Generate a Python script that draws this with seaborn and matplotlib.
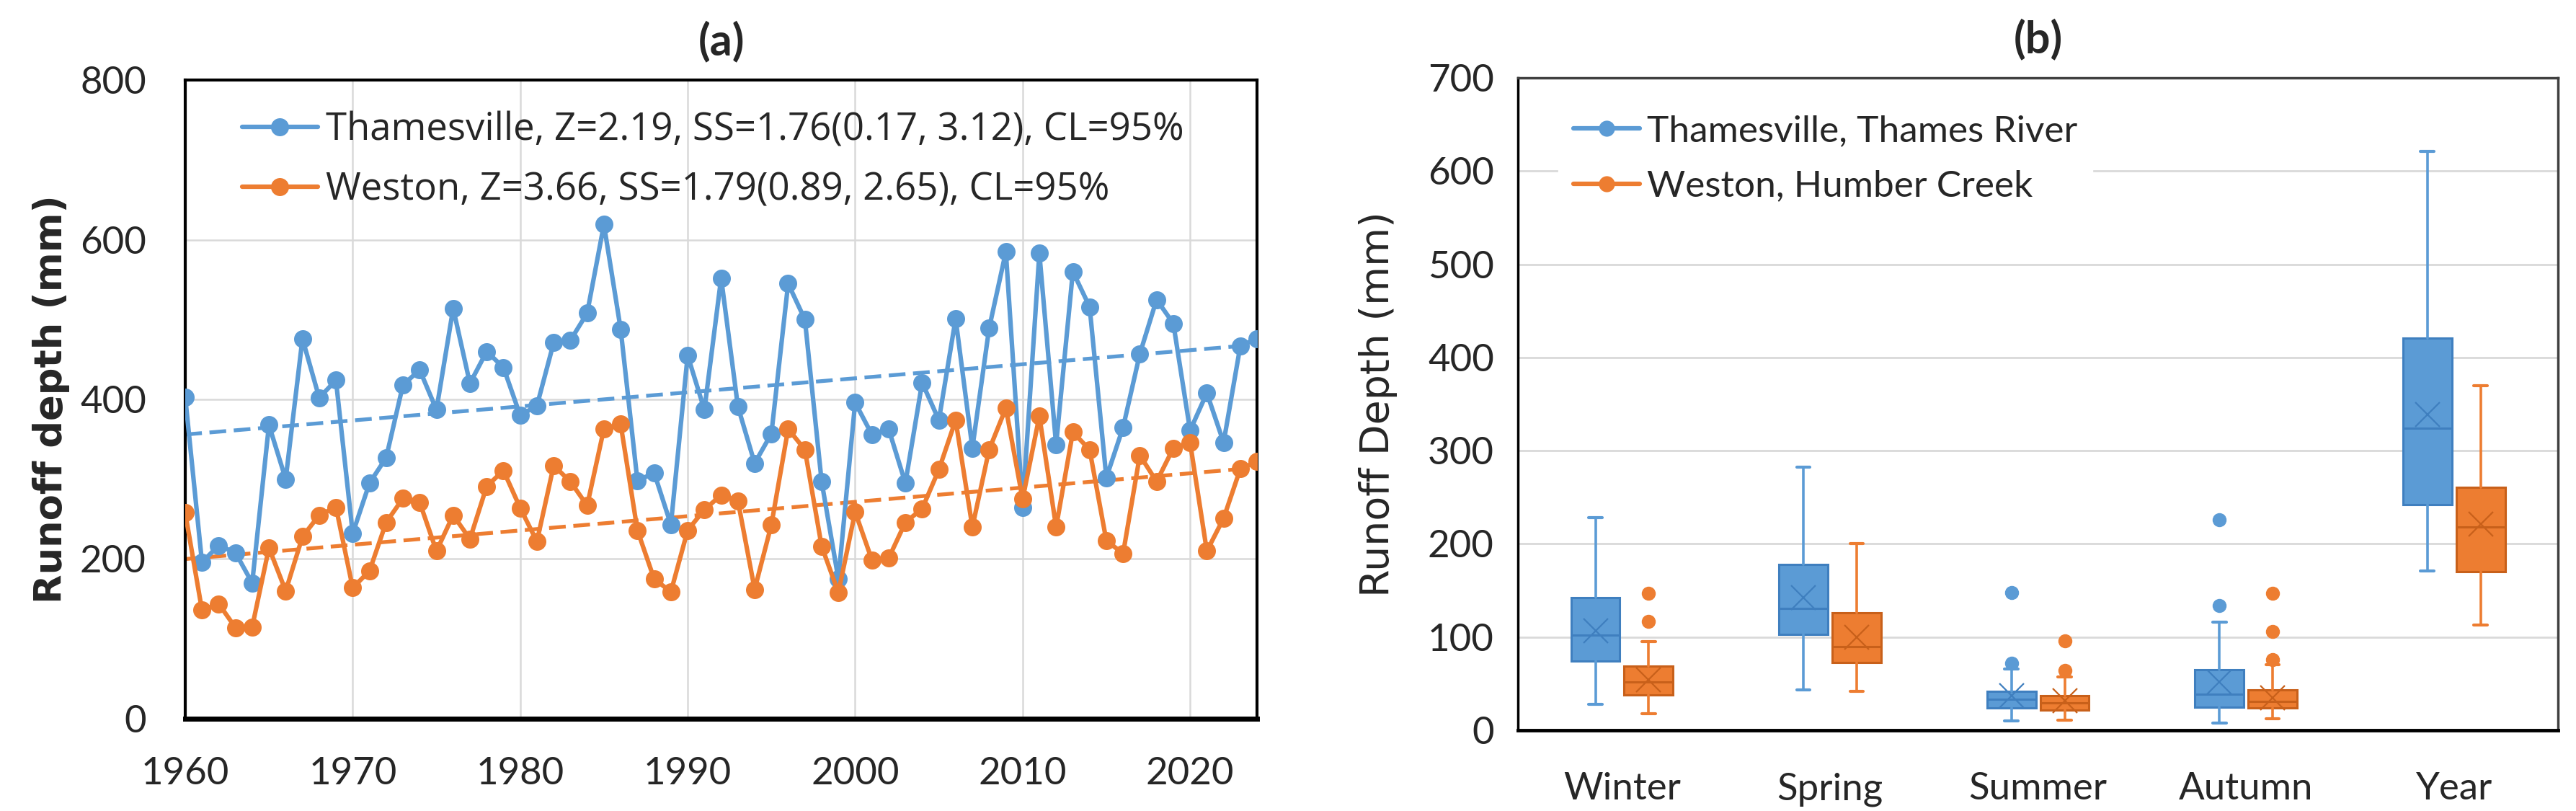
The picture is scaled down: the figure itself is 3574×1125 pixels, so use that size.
import numpy as np
import pandas as pd
import seaborn as sns
import matplotlib
matplotlib.use("Agg")
import matplotlib.pyplot as plt
from matplotlib.lines import Line2D

# ---------------- data ----------------
years = list(range(1960, 2025))
thamesville = [403, 196, 217, 208, 170, 368, 300, 476, 402, 424,
               232, 295, 327, 418, 437, 387, 514, 420, 460, 440,
               380, 392, 471, 474, 508, 619, 488, 298, 308, 243,
               455, 387, 552, 391, 320, 357, 545, 500, 297, 175,
               396, 356, 363, 295, 421, 374, 501, 339, 489, 585,
               265, 583, 343, 560, 516, 302, 365, 457, 525, 495,
               361, 408, 346, 467, 476]
weston = [258, 136, 144, 114, 115, 214, 160, 228, 255, 265,
          164, 185, 246, 276, 271, 210, 255, 225, 291, 311,
          264, 222, 317, 297, 267, 363, 369, 236, 175, 159,
          236, 262, 280, 273, 162, 243, 363, 337, 216, 158,
          259, 199, 201, 246, 263, 312, 374, 240, 337, 389,
          275, 379, 240, 359, 337, 223, 207, 330, 297, 339,
          346, 210, 251, 313, 322]
stations = ["Thamesville", "Weston"]
legend_a = ["Thamesville, Z=2.19, SS=1.76(0.17, 3.12), CL=95%",
            "Weston, Z=3.66, SS=1.79(0.89, 2.65), CL=95%"]
sen_slope = [1.76, 1.79]
trend_start = [356, 200]   # trend value in 1960

seasons = ["Winter", "Spring", "Summer", "Autumn", "Year"]
legend_b = ["Thamesville, Thames River", "Weston, Humber Creek"]
thames_lo = [28, 43, 10, 8, 171]
thames_q1 = [74, 103, 24, 25, 242]
thames_med = [102, 131, 33, 39, 324]
thames_mean = [107, 142, 37, 52, 339]
thames_q3 = [142, 178, 42, 65, 421]
thames_hi = [228, 282, 66, 116, 621]
thames_out = [[], [], [148, 72], [226, 134], []]
weston_lo = [18, 42, 11, 12, 113]
weston_q1 = [38, 73, 22, 24, 170]
weston_med = [52, 90, 29, 31, 218]
weston_mean = [54, 100, 32, 35, 221]
weston_q3 = [69, 126, 37, 43, 261]
weston_hi = [95, 200, 57, 70, 370]
weston_out = [[147, 117], [], [96, 64], [147, 106, 76], []]

BLUE = "#5B9BD5"
ORANGE = "#ED7D31"
colors = [BLUE, ORANGE]
dark = ["#3F7FBF", "#C8601A"]
GRID = "#D9D9D9"

sns.set_style("white")
plt.rcParams["font.family"] = ["Lato", "DejaVu Sans"]

fig = plt.figure(figsize=(35.74, 11.25), dpi=100)
ax1 = fig.add_axes([0.0719, 0.1138, 0.4161, 0.7875])
ax2 = fig.add_axes([0.5893, 0.0996, 0.4037, 0.8044])

# ---------------- (a) time series ----------------
df = pd.DataFrame({
    "year": years * 2,
    "runoff": thamesville + weston,
    "station": [stations[0]] * len(years) + [stations[1]] * len(years),
})
sns.lineplot(data=df, x="year", y="runoff", hue="station", palette=colors,
             marker="o", markersize=18, markeredgewidth=0, linewidth=4.5,
             legend=False, ax=ax1, zorder=3)

yrs = np.array(years)
for i in range(2):
    trend = trend_start[i] + sen_slope[i] * (yrs - 1960)
    ax1.plot(yrs, trend, color=colors[i], lw=3.8, dashes=(4.4, 2.0), zorder=2)

ax1.set_xlim(1960, 2024)
ax1.set_ylim(0, 800)
ax1.set_xticks(range(1960, 2021, 10))
ax1.set_yticks(range(0, 801, 200))
ax1.grid(True, color=GRID, lw=1.8)
ax1.set_axisbelow(True)
ax1.set_xlabel("")
ax1.set_ylabel("Runoff depth (mm)", fontsize=38, fontweight="bold",
               family=["DejaVu Sans"], labelpad=10)
ax1.tick_params(axis="both", labelsize=38, width=2.5, color="black",
                direction="out")
ax1.tick_params(axis="x", length=14, pad=24)
ax1.tick_params(axis="y", length=11, pad=28)
for s in ax1.spines.values():
    s.set_color("black")
    s.set_linewidth(3)
ax1.spines["bottom"].set_linewidth(5)
ax1.set_title("(a)", fontsize=44, fontweight="bold", pad=25)

handles = [Line2D([], [], color=c, lw=4.5, marker="o", markersize=18,
                  markeredgewidth=0) for c in colors]
ax1.legend(handles, legend_a, loc="upper left", bbox_to_anchor=(0.021, 1.005),
           frameon=False, handlelength=2.0, handletextpad=0.2,
           labelspacing=0.55, prop={"family": ["Open Sans"], "size": 38})

# ---------------- (b) box plots ----------------
offset = 0.128
width = 0.235
series = [
    (thames_lo, thames_q1, thames_med, thames_mean, thames_q3, thames_hi, thames_out),
    (weston_lo, weston_q1, weston_med, weston_mean, weston_q3, weston_hi, weston_out),
]
pos = np.arange(len(seasons))
for i, (lo, q1, med, mean, q3, hi, out) in enumerate(series):
    stats = []
    for k in range(len(seasons)):
        stats.append({"whislo": lo[k], "q1": q1[k], "med": med[k], "mean": mean[k],
                      "q3": q3[k], "whishi": hi[k], "fliers": out[k]})
    p = pos + (-offset if i == 0 else offset)
    ax2.bxp(stats, positions=p, widths=width, capwidths=0.065, patch_artist=True,
            showmeans=True, manage_ticks=False,
            boxprops=dict(facecolor=colors[i], edgecolor=dark[i], lw=2.2),
            medianprops=dict(color=dark[i], lw=2.2),
            whiskerprops=dict(color=colors[i], lw=2.6),
            capprops=dict(color=colors[i], lw=3),
            meanprops=dict(marker="x", markersize=24, markeredgecolor=dark[i],
                           markeredgewidth=1.6),
            flierprops=dict(marker="o", markersize=13, markerfacecolor=colors[i],
                            markeredgecolor=colors[i]))

ax2.set_xlim(-0.5, 4.5)
ax2.set_ylim(0, 700)
ax2.set_yticks(range(0, 701, 100))
ax2.set_xticks(pos)
ax2.set_xticklabels(seasons)
ax2.set_xticks(np.arange(-0.5, 4.6, 1), minor=True)
ax2.grid(True, axis="y", color=GRID, lw=2)
ax2.set_axisbelow(True)
ax2.set_ylabel("Runoff Depth (mm)", fontsize=40, family=["DejaVu Sans"],
               labelpad=30)
ax2.tick_params(axis="x", which="major", length=0, labelsize=38, pad=42)
ax2.tick_params(axis="x", which="minor", length=12, width=2, color="#BFBFBF")
ax2.tick_params(axis="y", labelsize=38, length=12, width=2, color="#BFBFBF",
                direction="inout", pad=18)
ax2.spines["left"].set_color("black")
ax2.spines["left"].set_linewidth(2.5)
ax2.spines["bottom"].set_color("black")
ax2.spines["bottom"].set_linewidth(3.5)
ax2.spines["top"].set_color("#404040")
ax2.spines["top"].set_linewidth(2.5)
ax2.spines["right"].set_color("#404040")
ax2.spines["right"].set_linewidth(2.5)
ax2.set_title("(b)", fontsize=44, fontweight="bold", pad=25)

handles_b = [Line2D([], [], color=c, lw=4.5, marker="o", markersize=16,
                    markeredgewidth=0) for c in colors]
ax2.legend(handles_b, legend_b, loc="upper left", bbox_to_anchor=(0.021, 0.995),
           frameon=True, fancybox=False, framealpha=1, edgecolor="white",
           handlelength=1.8, handletextpad=0.2, labelspacing=0.6,
           prop={"size": 37})

fig.savefig("out.png", dpi=100)
